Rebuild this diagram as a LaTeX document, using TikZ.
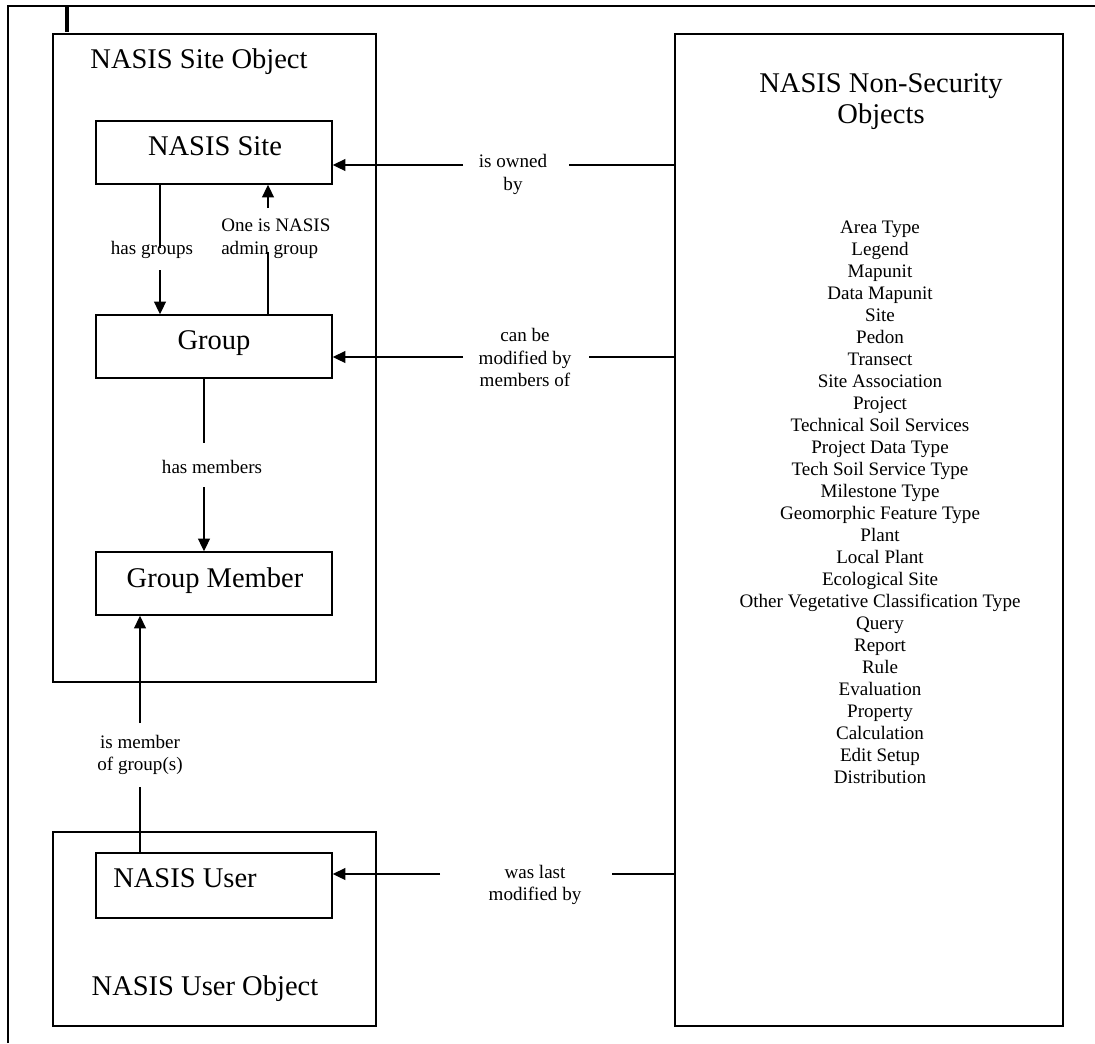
\documentclass[tikz,border=0pt]{standalone}
\usepackage{fontspec}
\setmainfont{Liberation Serif}
\usetikzlibrary{fit,arrows.meta}
\begin{document}
\begin{tikzpicture}[x=0.75pt,y=-0.75pt,
  boxln/.style={draw, line width=1.2pt, inner sep=0pt},
  conn/.style={line width=1pt},
  arr/.style={conn, -{Triangle[length=9.5pt,width=9pt]}},
  ttl/.style={font=\fontsize{21.4}{25}\selectfont, inner sep=0pt, anchor=base},
  lbl/.style={font=\fontsize{14.3}{16.9}\selectfont, inner sep=0pt, align=center},
  itm/.style={font=\fontsize{14.3}{16.5}\selectfont, inner sep=0pt, anchor=base},
  frame/.style={line width=1.5pt},
]
\useasboundingbox (0,0) rectangle (1095,1043);

% outer frame (cut off)
\coordinate (fBL) at (8,1043);
\coordinate (fTL) at (8,6);
\coordinate (fTR) at (1095,6);
\coordinate (tickA) at (67,6);
\coordinate (tickB) at (67,32);
\draw[frame] (fBL) -- (fTL) -- (fTR);
\draw[line width=2.5pt] (tickA) -- (tickB);

% containers
\node[boxln, fit={(53,34) (376,682)}] (siteobj) {};
\node[boxln, fit={(53,832) (376,1026)}] (userobj) {};
\node[boxln, fit={(675,34) (1063,1026)}] (nonsec) {};

% inner boxes
\node[boxln, fit={(96,121) (332,184)}] (site) {};
\node[boxln, fit={(96,315) (332,378)}] (group) {};
\node[boxln, fit={(96,552) (332,615)}] (member) {};
\node[boxln, fit={(96,853) (332,918)}] (user) {};

% titles and box texts
\node[ttl] (tsiteobj) at (199,68) {NASIS Site Object};
\node[ttl] (tsite) at (215,155) {NASIS Site};
\node[ttl] (tgroup) at (214,349) {Group};
\node[ttl] (tmember) at (215,587) {Group Member};
\node[ttl] (tuser) at (185,887) {NASIS User};
\node[ttl] (tuserobj) at (205,995) {NASIS User Object};
\node[ttl] (tnonsec1) at (881,92) {NASIS Non-Security};
\node[ttl] (tnonsec2) at (881,123) {Objects};

% list of non-security objects
\foreach \t [count=\i] in {Area Type, Legend, Mapunit, Data Mapunit, Site, Pedon,
  Transect, Site Association, Project, Technical Soil Services, Project Data Type,
  Tech Soil Service Type, Milestone Type, Geomorphic Feature Type, Plant,
  Local Plant, Ecological Site, Other Vegetative Classification Type, Query,
  Report, Rule, Evaluation, Property, Calculation, Edit Setup, Distribution}
  \node[itm] (item\i) at (880,{233+22*(\i-1)}) {\t};

% connector labels
\node[lbl] (lhasgroups) at (152,250) {has groups};
\node[lbl, anchor=west, align=left] (ladmin) at (221,238.5) {One is NASIS\\admin group};
\node[lbl] (lhasmembers) at (212,467) {has members};
\node[lbl] (lismember) at (140,755) {is member\\of group(s)};
\node[lbl] (lowned) at (513,174.5) {is owned\\by};
\node[lbl] (lmodified) at (525,357.5) {can be\\modified by\\members of};
\node[lbl] (llast) at (535,885) {was last\\modified by};

% has groups
\coordinate (hgA) at (160,248);
\coordinate (hgB) at (160,270);
\draw[conn] (site.south -| hgA) -- (hgA);
\draw[arr] (hgB) -- (group.north -| hgB);

% one is admin group
\coordinate (adA) at (268,208);
\coordinate (adB) at (268,252);
\draw[arr] (adA) -- (site.south -| adA);
\draw[conn] (group.north -| adB) -- (adB);

% has members
\coordinate (hmA) at (204,443);
\coordinate (hmB) at (204,487);
\draw[conn] (group.south -| hmA) -- (hmA);
\draw[arr] (hmB) -- (member.north -| hmB);

% is member of group(s)
\coordinate (imA) at (140,723);
\coordinate (imB) at (140,787);
\draw[arr] (imA) -- (member.south -| imA);
\draw[conn] (user.north -| imB) -- (imB);

% is owned by
\coordinate (owL) at (463,165);
\coordinate (owR) at (569,165);
\draw[conn] (nonsec.west |- owR) -- (owR);
\draw[arr] (owL) -- (site.east |- owL);

% can be modified by members of
\coordinate (cmL) at (463,357);
\coordinate (cmR) at (589,357);
\draw[conn] (nonsec.west |- cmR) -- (cmR);
\draw[arr] (cmL) -- (group.east |- cmL);

% was last modified by
\coordinate (wlL) at (440,874);
\coordinate (wlR) at (612,874);
\draw[conn] (nonsec.west |- wlR) -- (wlR);
\draw[arr] (wlL) -- (user.east |- wlL);
\end{tikzpicture}
\end{document}
